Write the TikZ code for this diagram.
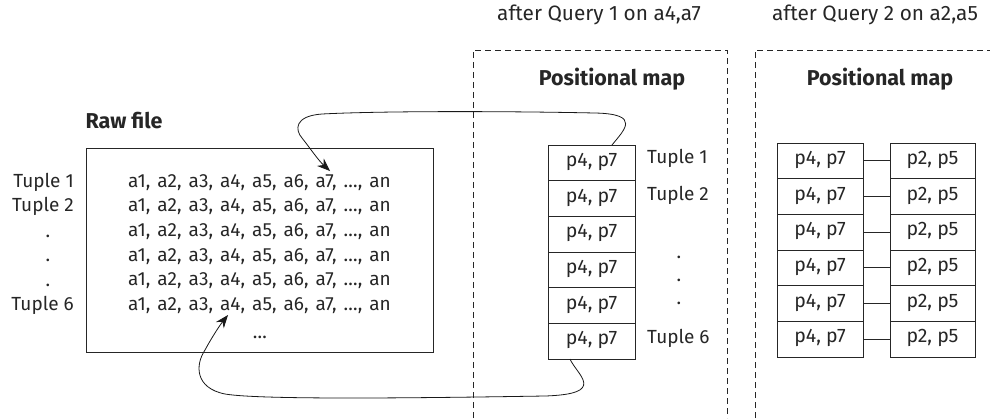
\documentclass[tikz,border=0pt]{standalone}
\usepackage{fontspec}
\setmainfont{Fira Sans}
\newfontfamily\rowfont{Fira Sans}[WordSpace=1.4]
\usetikzlibrary{arrows.meta}
\begin{document}
\begin{tikzpicture}[x=1pt,y=-1pt,
  every node/.style={text=black!85},
  txt/.style={inner sep=0pt, text height=0.7em, text depth=0pt},
  rowtxt/.style={txt, font=\rowfont\fontsize{19}{21}\selectfont},
  tup/.style={txt, font=\fontsize{19}{21}\selectfont},
  dotlbl/.style={inner sep=0pt, font=\fontsize{19}{21}\selectfont},
  head/.style={txt, font=\fontsize{20.8}{23}\selectfont},
  cell/.style={draw=black!85, line width=0.8pt, inner sep=0pt, minimum width=87pt, minimum height=35.7pt, text height=0.7em, text depth=0pt, font=\fontsize{19.5}{21}\selectfont},
  frame/.style={draw=black!85, line width=0.8pt, dash pattern=on 6pt off 4pt},
  link/.style={draw=black!85, line width=0.8pt},
  arr/.style={draw=black!90, line width=0.8pt, -{Stealth[length=13pt,width=10pt]}},
  title/.style={inner sep=0pt, text height=0.7em, text depth=0pt, font=\fontsize{21.5}{24}\selectfont\bfseries}]
\useasboundingbox (0,0) rectangle (990,418);

% headers
\node[head] (h1) at (599,17) {after Query 1 on a4,a7};
\node[head] (h2) at (875,17) {after Query 2 on a2,a5};

% dashed frames
\draw[frame] (473,418) -- (473,50) -- (727,50) -- (727,418);
\draw[frame] (755,418) -- (755,50) -- (990,50);

\node[title] (pm1) at (612,82) {Positional map};
\node[title] (pm2) at (880,82) {Positional map};

% raw file
\node[title] (rawlbl) at (124,125) {Raw file};
\node[draw=black!85, line width=0.8pt, minimum width=347pt, minimum height=204pt, inner sep=0pt] (raw) at (259.5,250) {};
\foreach \i in {1,...,6}{
  \node[rowtxt] (row\i) at (259.5,{183.5+24.7*(\i-1)}) {a1, a2, a3, a4, a5, a6, a7, …, an};
}
\node[rowtxt] (more) at (260,335) {…};

\node[tup, anchor=east] (lt1) at (74,183.5) {Tuple 1};
\node[tup, anchor=east] (lt2) at (74,208.2) {Tuple 2};
\node[dotlbl] (ld1) at (48,236) {.};
\node[dotlbl] (ld2) at (48,260) {.};
\node[dotlbl] (ld3) at (48,285) {.};
\node[tup, anchor=east] (lt6) at (74,307) {Tuple 6};

% positional map 1
\foreach \i in {1,...,6}{
  \node[cell] (m\i) at (591.5,{145+35.67*(\i-0.5)}) {p4, p7};
}
\node[tup, anchor=west] (rt1) at (647,160) {Tuple 1};
\node[tup, anchor=west] (rt2) at (647,197) {Tuple 2};
\node[dotlbl] (rd1) at (679,257) {.};
\node[dotlbl] (rd2) at (679,280) {.};
\node[dotlbl] (rd3) at (679,303) {.};
\node[tup, anchor=west] (rt6) at (647,340) {Tuple 6};

% positional map 2
\foreach \i in {1,...,6}{
  \node[cell, minimum width=86pt] (a\i) at (820,{143+35.67*(\i-0.5)}) {p4, p7};
  \node[cell, minimum width=85pt] (b\i) at (932.5,{143+35.67*(\i-0.5)}) {p2, p5};
  \draw[link] (a\i) -- (b\i);
}

% arrows
\coordinate (s1) at (612,145);
\coordinate (t1) at (330,171);
\coordinate (s6) at (570,359);
\coordinate (t6) at (228,315);
\draw[arr] (s1) .. controls (624,130) and (642,114) .. (595,113)
  .. controls (500,111) and (380,111) .. (322,114)
  .. controls (294,116) and (295,130) .. (302,138)
  .. controls (310,148) and (318,160) .. (t1);
\draw[arr] (s6) .. controls (577,375) and (608,394) .. (545,396)
  .. controls (420,398) and (260,400) .. (225,394)
  .. controls (195,388) and (195,365) .. (205,350)
  .. controls (212,337) and (220,325) .. (t6);
\end{tikzpicture}
\end{document}
